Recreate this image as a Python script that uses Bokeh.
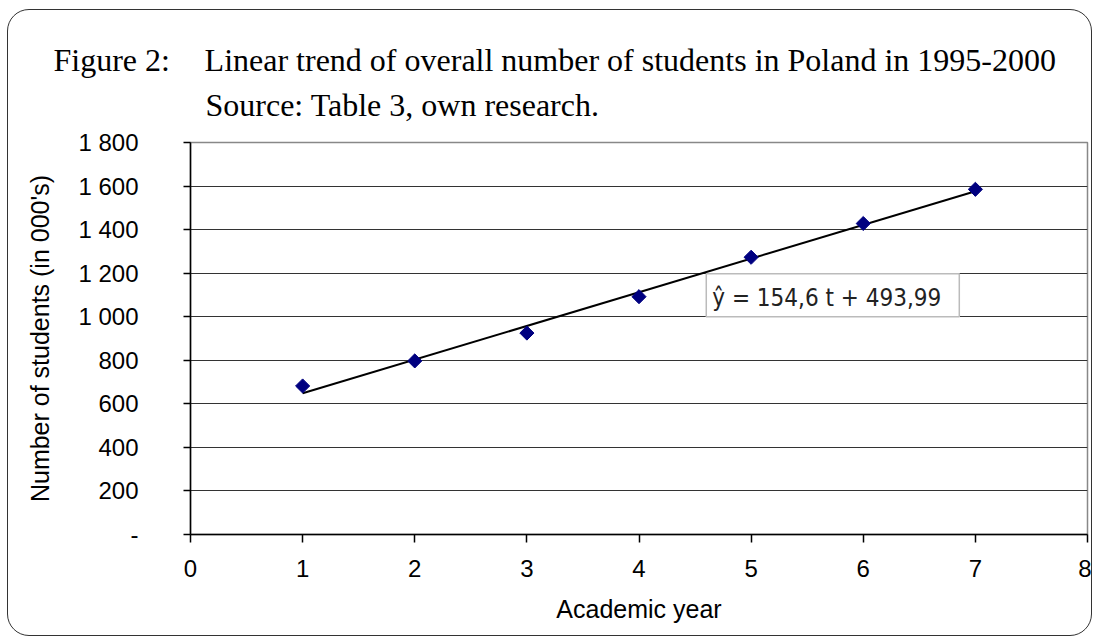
import math
from bokeh.plotting import figure
from bokeh.models import Range1d, Label, FixedTicker, Title
from bokeh.embed import file_html
from bokeh.resources import INLINE

# ---- data ----
years = [1, 2, 3, 4, 5, 6, 7]
students = [682, 797, 925, 1092, 1273, 1428, 1585]
trend_slope = 154.6
trend_intercept = 493.99
trend_x = [1, 7]
trend_y = [trend_slope * t + trend_intercept for t in trend_x]

x_ticks = [0, 1, 2, 3, 4, 5, 6, 7, 8]
y_ticks = [0, 200, 400, 600, 800, 1000, 1200, 1400, 1600, 1800]
y_tick_labels = ["-", "200", "400", "600", "800", "1 000", "1 200", "1 400", "1 600", "1 800"]

NB = "\u00a0"
title_text = ("Figure 2:" + NB * 4 + "\u200a" + "Linear trend of overall number of students in Poland in 1995-2000\n"
              + NB * 19 + "Source: Table 3, own research.")
equation = "\u0177 = 154,6 t + 493,99"

OX, OY = 7, 9
W, H = 1085, 627
p = figure(width=W, height=H, output_backend="svg", toolbar_location=None,
           x_range=Range1d(0, 8), y_range=Range1d(0, 1800),
           min_border_left=182, min_border_top=132, min_border_right=6, min_border_bottom=103)
p.styles = {"margin-left": f"{OX}px", "margin-top": f"{OY}px",
            "border": "1.5px solid #333333", "border-radius": "22px"}
p.background_fill_color = "white"
p.border_fill_color = None
p.outline_line_color = "#888888"
p.outline_line_width = 1.5

FONT = "Liberation Sans"
for ax in (p.xaxis[0], p.yaxis[0]):
    ax.axis_line_color = "black"
    ax.axis_line_width = 1.5
    ax.major_tick_line_color = "black"
    ax.major_tick_line_width = 1.5
    ax.major_tick_in = 0
    ax.minor_tick_line_color = None
    ax.major_label_text_font = FONT
    ax.major_label_text_font_size = "24px"
    ax.major_label_text_color = "black"
    ax.axis_label_text_font = FONT
    ax.axis_label_text_font_size = "25px"
    ax.axis_label_text_font_style = "normal"
    ax.axis_label_text_color = "black"

p.xaxis.ticker = FixedTicker(ticks=x_ticks)
p.xaxis.major_tick_out = 8
p.xaxis.major_label_standoff = 17
p.xaxis.axis_label = "Academic year"
p.xaxis.axis_label_standoff = 15

p.yaxis.ticker = FixedTicker(ticks=y_ticks)
p.yaxis.major_label_overrides = {t: l for t, l in zip(y_ticks, y_tick_labels)}
p.yaxis.major_tick_out = 7
p.yaxis.major_label_standoff = 45
p.yaxis.axis_label = "Number of students (in 000's)"
p.yaxis.axis_label_standoff = 21

p.xgrid.grid_line_color = None
p.ygrid.grid_line_color = "#333333"
p.ygrid.grid_line_width = 1.2
p.ygrid.ticker = FixedTicker(ticks=y_ticks[1:])

p.line(trend_x, trend_y, line_color="black", line_width=2)
p.scatter(years, students, marker="square", angle=math.pi / 4, size=10,
          fill_color="#000080", line_color="#000080")

eq = Label(x=4.6, y=1000, text=equation, text_font="DejaVu Sans Condensed", text_font_size="24px",
           text_color="#222222", text_baseline="bottom", text_align="left",
           background_fill_color="white", border_line_color="#bbbbbb", border_line_width=1.5,
           padding=dict(left=6, right=18, top=10, bottom=5))
p.add_layout(eq)

p.add_layout(Title(text=title_text, offset=-137, standoff=40, align="left",
                   text_font="Liberation Serif", text_font_size="32px", text_color="black",
                   text_font_style="normal", text_line_height=1.25), "above")

open("out.html", "w").write(file_html(p, INLINE))
